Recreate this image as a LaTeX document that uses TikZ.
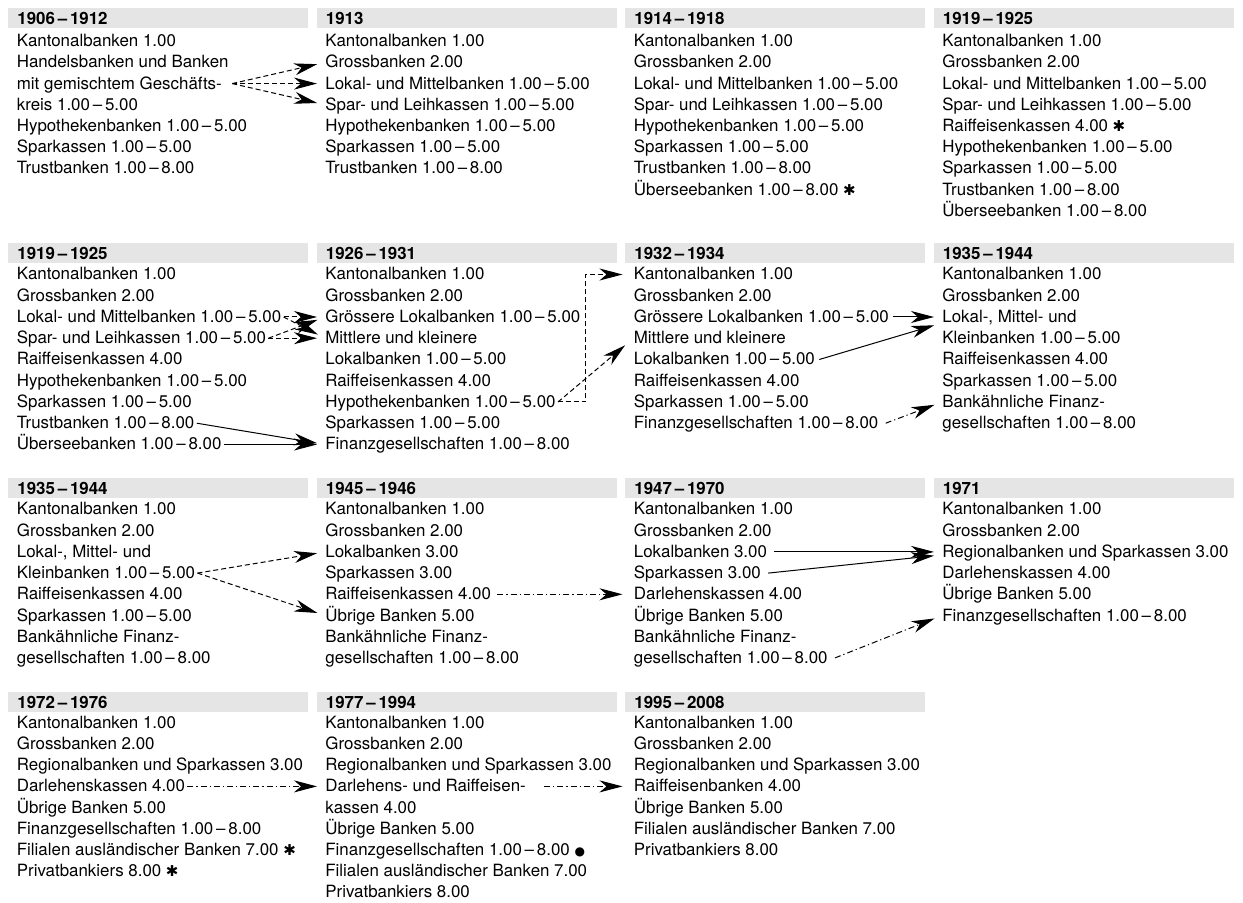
\documentclass[tikz,border=0pt]{standalone}
\usepackage{fontspec}
\setmainfont{TeX Gyre Heros}
\newfontfamily\symfont{DejaVu Sans}
\usetikzlibrary{arrows.meta}

\newcommand{\tabfont}{\fontsize{8.45pt}{10.6pt}\selectfont}
\newcommand{\starmark}{{\symfont\fontsize{7.5pt}{7.5pt}\selectfont ✱}}
\newcommand{\dotmark}{{\symfont\fontsize{6pt}{6pt}\selectfont ●}}

\tikzset{%
          entry/.style={
            anchor=base west,
            inner sep=0pt,
            text height=6pt,
            text depth=0.5pt
          },
          period/.style={
            anchor=north west,
            fill=black!10,
            font=\tabfont\bfseries,
            inner xsep=4.5pt,
            inner ysep=2pt,
            text width=141pt,
            text height=6pt,
            text depth=0pt
          },
          merged/.style={
            draw,
            ->,
            line width=0.5pt,
            shorten >=4pt
          },
          split/.style={
            merged,
            dash pattern=on 2.5pt off 1.5pt
          },
          renamed/.style={
            merged,
            dash pattern=on 3pt off 1.5pt on 0.6pt off 1.5pt
          },
        }

\begin{document}
\begin{tikzpicture}[x=0.5pt, y=-0.5pt, >={Stealth[length=11.5pt, width=6pt, inset=3.5pt]}, font=\tabfont]
        \useasboundingbox (0,0) rectangle (1243,903);

        % first row
        \node [period] (p1906) at (8,8) {1906\,–\,1912};
        \node [entry] (p1906-1) at (16.5,46.7) {Kantonalbanken 1.00};
        \node [entry] (p1906-2) at (16.5,67.9) {Handelsbanken und Banken};
        \node [entry] (p1906-3) at (16.5,89.1) {mit gemischtem Geschäfts-};
        \node [entry] (p1906-4) at (16.5,110.3) {kreis 1.00\,–\,5.00};
        \node [entry] (p1906-5) at (16.5,131.5) {Hypothekenbanken 1.00\,–\,5.00};
        \node [entry] (p1906-6) at (16.5,152.7) {Sparkassen 1.00\,–\,5.00};
        \node [entry] (p1906-7) at (16.5,173.9) {Trustbanken 1.00\,–\,8.00};

        \node [period] (p1913) at (316.5,8) {1913};
        \node [entry] (p1913-1) at (325,46.7) {Kantonalbanken 1.00};
        \node [entry] (p1913-2) at (325,67.9) {Grossbanken 2.00};
        \node [entry] (p1913-3) at (325,89.1) {Lokal- und Mittelbanken 1.00\,–\,5.00};
        \node [entry] (p1913-4) at (325,110.3) {Spar- und Leihkassen 1.00\,–\,5.00};
        \node [entry] (p1913-5) at (325,131.5) {Hypothekenbanken 1.00\,–\,5.00};
        \node [entry] (p1913-6) at (325,152.7) {Sparkassen 1.00\,–\,5.00};
        \node [entry] (p1913-7) at (325,173.9) {Trustbanken 1.00\,–\,8.00};

        \node [period] (p1914) at (625,8) {1914\,–\,1918};
        \node [entry] (p1914-1) at (633.5,46.7) {Kantonalbanken 1.00};
        \node [entry] (p1914-2) at (633.5,67.9) {Grossbanken 2.00};
        \node [entry] (p1914-3) at (633.5,89.1) {Lokal- und Mittelbanken 1.00\,–\,5.00};
        \node [entry] (p1914-4) at (633.5,110.3) {Spar- und Leihkassen 1.00\,–\,5.00};
        \node [entry] (p1914-5) at (633.5,131.5) {Hypothekenbanken 1.00\,–\,5.00};
        \node [entry] (p1914-6) at (633.5,152.7) {Sparkassen 1.00\,–\,5.00};
        \node [entry] (p1914-7) at (633.5,173.9) {Trustbanken 1.00\,–\,8.00};
        \node [entry] (p1914-8) at (633.5,195.1) {Überseebanken 1.00\,–\,8.00 \starmark};

        \node [period] (p1919a) at (933.5,8) {1919\,–\,1925};
        \node [entry] (p1919a-1) at (942,46.7) {Kantonalbanken 1.00};
        \node [entry] (p1919a-2) at (942,67.9) {Grossbanken 2.00};
        \node [entry] (p1919a-3) at (942,89.1) {Lokal- und Mittelbanken 1.00\,–\,5.00};
        \node [entry] (p1919a-4) at (942,110.3) {Spar- und Leihkassen 1.00\,–\,5.00};
        \node [entry] (p1919a-5) at (942,131.5) {Raiffeisenkassen 4.00 \starmark};
        \node [entry] (p1919a-6) at (942,152.7) {Hypothekenbanken 1.00\,–\,5.00};
        \node [entry] (p1919a-7) at (942,173.9) {Sparkassen 1.00\,–\,5.00};
        \node [entry] (p1919a-8) at (942,195.1) {Trustbanken 1.00\,–\,8.00};
        \node [entry] (p1919a-9) at (942,216.3) {Überseebanken 1.00\,–\,8.00};

        % second row
        \node [period] (p1919b) at (8,243) {1919\,–\,1925};
        \node [entry] (p1919b-1) at (16.5,280) {Kantonalbanken 1.00};
        \node [entry] (p1919b-2) at (16.5,301.2) {Grossbanken 2.00};
        \node [entry] (p1919b-3) at (16.5,322.5) {Lokal- und Mittelbanken 1.00\,–\,5.00};
        \node [entry] (p1919b-4) at (16.5,343.7) {Spar- und Leihkassen 1.00\,–\,5.00};
        \node [entry] (p1919b-5) at (16.5,365) {Raiffeisenkassen 4.00};
        \node [entry] (p1919b-6) at (16.5,386.2) {Hypothekenbanken 1.00\,–\,5.00};
        \node [entry] (p1919b-7) at (16.5,407.5) {Sparkassen 1.00\,–\,5.00};
        \node [entry] (p1919b-8) at (16.5,428.7) {Trustbanken 1.00\,–\,8.00};
        \node [entry] (p1919b-9) at (16.5,450) {Überseebanken 1.00\,–\,8.00};

        \node [period] (p1926) at (316.5,243) {1926\,–\,1931};
        \node [entry] (p1926-1) at (325,280) {Kantonalbanken 1.00};
        \node [entry] (p1926-2) at (325,301.2) {Grossbanken 2.00};
        \node [entry] (p1926-3) at (325,322.5) {Grössere Lokalbanken 1.00\,–\,5.00};
        \node [entry] (p1926-4) at (325,343.7) {Mittlere und kleinere};
        \node [entry] (p1926-5) at (325,365) {Lokalbanken 1.00\,–\,5.00};
        \node [entry] (p1926-6) at (325,386.2) {Raiffeisenkassen 4.00};
        \node [entry] (p1926-7) at (325,407.5) {Hypothekenbanken 1.00\,–\,5.00};
        \node [entry] (p1926-8) at (325,428.7) {Sparkassen 1.00\,–\,5.00};
        \node [entry] (p1926-9) at (325,450) {Finanzgesellschaften 1.00\,–\,8.00};

        \node [period] (p1932) at (625,243) {1932\,–\,1934};
        \node [entry] (p1932-1) at (633.5,280) {Kantonalbanken 1.00};
        \node [entry] (p1932-2) at (633.5,301.2) {Grossbanken 2.00};
        \node [entry] (p1932-3) at (633.5,322.5) {Grössere Lokalbanken 1.00\,–\,5.00};
        \node [entry] (p1932-4) at (633.5,343.7) {Mittlere und kleinere};
        \node [entry] (p1932-5) at (633.5,365) {Lokalbanken 1.00\,–\,5.00};
        \node [entry] (p1932-6) at (633.5,386.2) {Raiffeisenkassen 4.00};
        \node [entry] (p1932-7) at (633.5,407.5) {Sparkassen 1.00\,–\,5.00};
        \node [entry] (p1932-8) at (633.5,428.7) {Finanzgesellschaften 1.00\,–\,8.00};

        \node [period] (p1935a) at (933.5,243) {1935\,–\,1944};
        \node [entry] (p1935a-1) at (942,280) {Kantonalbanken 1.00};
        \node [entry] (p1935a-2) at (942,301.2) {Grossbanken 2.00};
        \node [entry] (p1935a-3) at (942,322.5) {Lokal-, Mittel- und};
        \node [entry] (p1935a-4) at (942,343.7) {Kleinbanken 1.00\,–\,5.00};
        \node [entry] (p1935a-5) at (942,365) {Raiffeisenkassen 4.00};
        \node [entry] (p1935a-6) at (942,386.2) {Sparkassen 1.00\,–\,5.00};
        \node [entry] (p1935a-7) at (942,407.5) {Bankähnliche Finanz-};
        \node [entry] (p1935a-8) at (942,428.7) {gesellschaften 1.00\,–\,8.00};

        % third row
        \node [period] (p1935b) at (8,478) {1935\,–\,1944};
        \node [entry] (p1935b-1) at (16.5,515) {Kantonalbanken 1.00};
        \node [entry] (p1935b-2) at (16.5,536.2) {Grossbanken 2.00};
        \node [entry] (p1935b-3) at (16.5,557.4) {Lokal-, Mittel- und};
        \node [entry] (p1935b-4) at (16.5,578.6) {Kleinbanken 1.00\,–\,5.00};
        \node [entry] (p1935b-5) at (16.5,599.8) {Raiffeisenkassen 4.00};
        \node [entry] (p1935b-6) at (16.5,621) {Sparkassen 1.00\,–\,5.00};
        \node [entry] (p1935b-7) at (16.5,642.2) {Bankähnliche Finanz-};
        \node [entry] (p1935b-8) at (16.5,663.4) {gesellschaften 1.00\,–\,8.00};

        \node [period] (p1945) at (316.5,478) {1945\,–\,1946};
        \node [entry] (p1945-1) at (325,515) {Kantonalbanken 1.00};
        \node [entry] (p1945-2) at (325,536.2) {Grossbanken 2.00};
        \node [entry] (p1945-3) at (325,557.4) {Lokalbanken 3.00};
        \node [entry] (p1945-4) at (325,578.6) {Sparkassen 3.00};
        \node [entry] (p1945-5) at (325,599.8) {Raiffeisenkassen 4.00};
        \node [entry] (p1945-6) at (325,621) {Übrige Banken 5.00};
        \node [entry] (p1945-7) at (325,642.2) {Bankähnliche Finanz-};
        \node [entry] (p1945-8) at (325,663.4) {gesellschaften 1.00\,–\,8.00};

        \node [period] (p1947) at (625,478) {1947\,–\,1970};
        \node [entry] (p1947-1) at (633.5,515) {Kantonalbanken 1.00};
        \node [entry] (p1947-2) at (633.5,536.2) {Grossbanken 2.00};
        \node [entry] (p1947-3) at (633.5,557.4) {Lokalbanken 3.00};
        \node [entry] (p1947-4) at (633.5,578.6) {Sparkassen 3.00};
        \node [entry] (p1947-5) at (633.5,599.8) {Darlehenskassen 4.00};
        \node [entry] (p1947-6) at (633.5,621) {Übrige Banken 5.00};
        \node [entry] (p1947-7) at (633.5,642.2) {Bankähnliche Finanz-};
        \node [entry] (p1947-8) at (633.5,663.4) {gesellschaften 1.00\,–\,8.00};

        \node [period] (p1971) at (933.5,478) {1971};
        \node [entry] (p1971-1) at (942,515) {Kantonalbanken 1.00};
        \node [entry] (p1971-2) at (942,536.2) {Grossbanken 2.00};
        \node [entry] (p1971-3) at (942,557.4) {Regionalbanken und Sparkassen 3.00};
        \node [entry] (p1971-4) at (942,578.6) {Darlehenskassen 4.00};
        \node [entry] (p1971-5) at (942,599.8) {Übrige Banken 5.00};
        \node [entry] (p1971-6) at (942,621) {Finanzgesellschaften 1.00\,–\,8.00};

        % fourth row
        \node [period] (p1972) at (8,692) {1972\,–\,1976};
        \node [entry] (p1972-1) at (16.5,728.3) {Kantonalbanken 1.00};
        \node [entry] (p1972-2) at (16.5,749.5) {Grossbanken 2.00};
        \node [entry] (p1972-3) at (16.5,770.7) {Regionalbanken und Sparkassen 3.00};
        \node [entry] (p1972-4) at (16.5,791.9) {Darlehenskassen 4.00};
        \node [entry] (p1972-5) at (16.5,813.1) {Übrige Banken 5.00};
        \node [entry] (p1972-6) at (16.5,834.3) {Finanzgesellschaften 1.00\,–\,8.00};
        \node [entry] (p1972-7) at (16.5,855.5) {Filialen ausländischer Banken 7.00 \starmark};
        \node [entry] (p1972-8) at (16.5,876.7) {Privatbankiers 8.00 \starmark};

        \node [period] (p1977) at (316.5,692) {1977\,–\,1994};
        \node [entry] (p1977-1) at (325,728.3) {Kantonalbanken 1.00};
        \node [entry] (p1977-2) at (325,749.5) {Grossbanken 2.00};
        \node [entry] (p1977-3) at (325,770.7) {Regionalbanken und Sparkassen 3.00};
        \node [entry] (p1977-4) at (325,791.9) {Darlehens- und Raiffeisen-};
        \node [entry] (p1977-5) at (325,813.1) {kassen 4.00};
        \node [entry] (p1977-6) at (325,834.3) {Übrige Banken 5.00};
        \node [entry] (p1977-7) at (325,855.5) {Finanzgesellschaften 1.00\,–\,8.00 \dotmark};
        \node [entry] (p1977-8) at (325,876.7) {Filialen ausländischer Banken 7.00};
        \node [entry] (p1977-9) at (325,897.9) {Privatbankiers 8.00};

        \node [period] (p1995) at (625,692) {1995\,–\,2008};
        \node [entry] (p1995-1) at (633.5,728.3) {Kantonalbanken 1.00};
        \node [entry] (p1995-2) at (633.5,749.5) {Grossbanken 2.00};
        \node [entry] (p1995-3) at (633.5,770.7) {Regionalbanken und Sparkassen 3.00};
        \node [entry] (p1995-4) at (633.5,791.9) {Raiffeisenbanken 4.00};
        \node [entry] (p1995-5) at (633.5,813.1) {Übrige Banken 5.00};
        \node [entry] (p1995-6) at (633.5,834.3) {Filialen ausländischer Banken 7.00};
        \node [entry] (p1995-7) at (633.5,855.5) {Privatbankiers 8.00};

        % transitions
        \path [split] ([xshift=5pt]p1906-3.east) -- (p1913-2.west);
        \path [split] ([xshift=5pt]p1906-3.east) -- (p1913-3.west);
        \path [split] ([xshift=5pt]p1906-3.east) -- (p1913-4.west);

        \path [split] ([xshift=1pt]p1919b-3.east) -- (p1926-3.west);
        \path [split] ([xshift=1pt]p1919b-3.east) -- (p1926-4.west);
        \path [split] ([xshift=1pt]p1919b-4.east) -- (p1926-3.west);
        \path [split] ([xshift=1pt]p1919b-4.east) -- (p1926-4.west);
        \path [merged] ([xshift=1pt]p1919b-8.east) -- (p1926-9.west);
        \path [merged] ([xshift=1pt]p1919b-9.east) -- (p1926-9.west);

        \path [split, shorten >=5.5pt] ([xshift=1pt]p1926-7.east) -- (p1932-4.west);
        \path [split, shorten >=5.5pt] ([xshift=1pt]p1926-7.east) -- ++(14pt,0) |- (p1932-1.west);

        \path [merged] ([xshift=2pt]p1932-3.east) -- (p1935a-3.west);
        \path [merged] ([xshift=2pt]p1932-5.east) -- ([yshift=-3pt]p1935a-3.west);
        \path [renamed] ([xshift=3.5pt]p1932-8.east) -- (p1935a-7.west);

        \path [split] ([xshift=1pt]p1935b-4.east) -- (p1945-3.west);
        \path [split] ([xshift=1pt]p1935b-4.east) -- (p1945-6.west);
        \path [renamed, shorten >=5.5pt] ([xshift=3pt]p1945-5.east) -- (p1947-5.west);
        \path [merged] ([xshift=3.5pt]p1947-3.east) -- (p1971-3.west);
        \path [merged] ([xshift=3.5pt]p1947-4.east) -- ([yshift=-1.5pt]p1971-3.west);
        \path [renamed] ([xshift=3.5pt]p1947-8.east) -- (p1971-6.west);

        \path [renamed] ([xshift=1pt]p1972-4.east) -- (p1977-4.west);
        \path [renamed, shorten >=5.5pt] ([xshift=9pt]p1977-4.east) -- (p1995-4.west);

        \end{tikzpicture}
\end{document}
